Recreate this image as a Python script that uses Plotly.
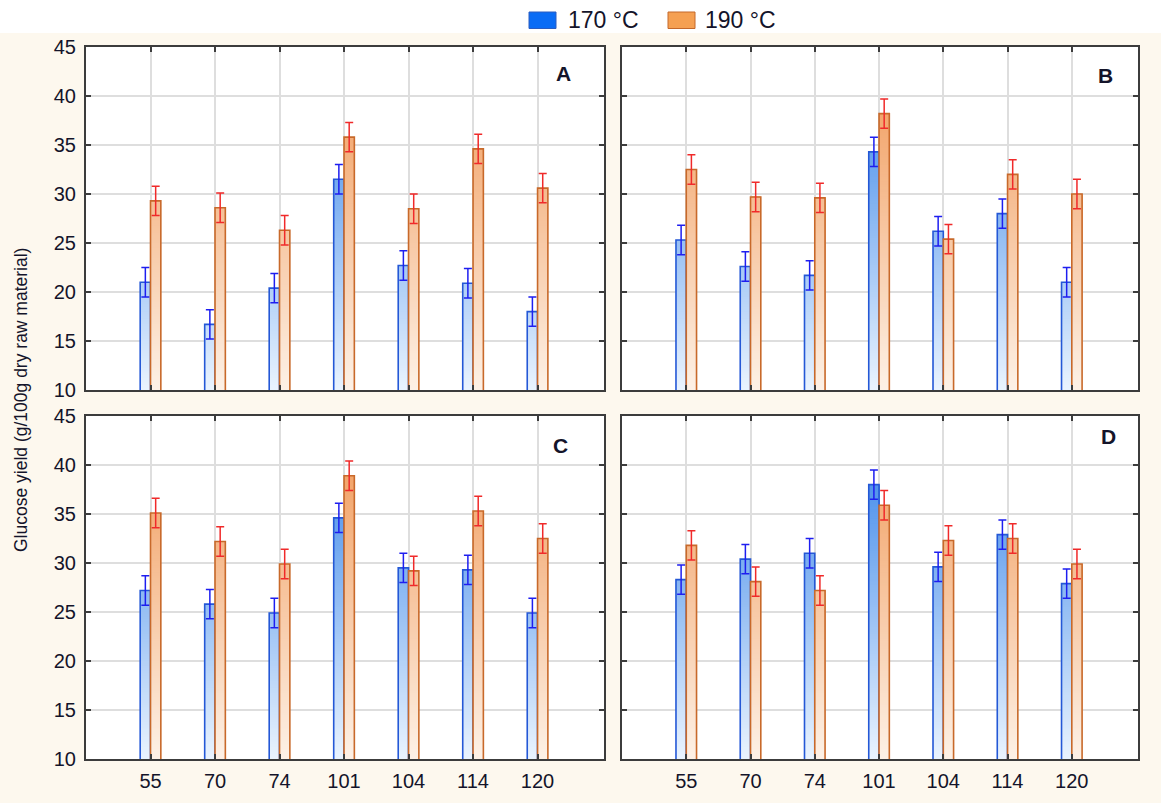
import numpy as np
import plotly.graph_objects as go

# Hydrolysis time points on the x axis
categories = ["55", "70", "74", "101", "104", "114", "120"]

# Glucose yield, g/100 g dry raw material — 170 °C series per panel
a_170 = [21.0, 16.7, 20.4, 31.5, 22.7, 20.9, 18.0]
b_170 = [25.3, 22.6, 21.7, 34.3, 26.2, 28.0, 21.0]
c_170 = [27.2, 25.8, 24.9, 34.6, 29.5, 29.3, 24.9]
d_170 = [28.3, 30.4, 31.0, 38.0, 29.6, 32.9, 27.9]

# 190 °C series per panel
a_190 = [29.3, 28.6, 26.3, 35.8, 28.5, 34.6, 30.6]
b_190 = [32.5, 29.7, 29.6, 38.2, 25.4, 32.0, 30.0]
c_190 = [35.1, 32.2, 29.9, 38.9, 29.2, 35.3, 32.5]
d_190 = [31.8, 28.1, 27.2, 35.9, 32.3, 32.5, 29.9]

# Standard deviation shown by the error bars
err_170 = [1.5, 1.5, 1.5, 1.5, 1.5, 1.5, 1.5]
err_190 = [1.5, 1.5, 1.5, 1.5, 1.5, 1.5, 1.5]

panel_labels = ["A", "B", "C", "D"]
y_ticks = [10, 15, 20, 25, 30, 35, 40, 45]

W, H = 1161, 803
FONT = "Liberation Sans, Arial, sans-serif"
TXT = "#14142a"
Y_MIN, Y_MAX = 10, 45
BAR_W = 0.16
STEP = 0.25

series_style = {
    "170": dict(scale=[[0, "#e9f3fe"], [1, "#2a7be6"]], edge="#2458d6",
                err="#1e1ef0", offset=-BAR_W),
    "190": dict(scale=[[0, "#fdf1e6"], [1, "#f09450"]], edge="#c8692a",
                err="#f02a2a", offset=0.0),
}

panels = [
    ("A", a_170, a_190, "x", "y"),
    ("B", b_170, b_190, "x2", "y2"),
    ("C", c_170, c_190, "x3", "y3"),
    ("D", d_170, d_190, "x4", "y4"),
]

fig = go.Figure()


def add_series(values, errs, key, xa, ya):
    st = series_style[key]
    # vertical gradient: stacked slices, each coloured by its height level
    xs, bases, heights, levels = [], [], [], []
    for cat, v in zip(categories, values):
        for lv in np.arange(Y_MIN, v, STEP):
            xs.append(cat)
            bases.append(lv)
            heights.append(v - lv)
            levels.append(lv)
    fig.add_trace(go.Bar(
        x=xs, y=heights, base=bases, width=BAR_W, offset=st["offset"],
        marker=dict(color=levels, colorscale=st["scale"], cmin=Y_MIN, cmax=Y_MAX,
                    line=dict(width=0)),
        xaxis=xa, yaxis=ya, showlegend=False, hoverinfo="skip"))
    # outline of each bar plus its error bar
    fig.add_trace(go.Bar(
        x=categories, y=values, width=BAR_W, offset=st["offset"],
        marker=dict(color="rgba(0,0,0,0)", line=dict(color=st["edge"], width=1.6)),
        error_y=dict(type="data", array=errs, color=st["err"], thickness=1.5, width=4),
        xaxis=xa, yaxis=ya, showlegend=False, name=key + " °C"))


for label, s170, s190, xa, ya in panels:
    add_series(s170, err_170, "170", xa, ya)
    add_series(s190, err_190, "190", xa, ya)

# panel geometry in pixels -> paper fractions
left_x = [86 / W, 604 / W]
right_x = [622 / W, 1138 / W]
top_y = [1 - 390 / H, 1 - 47 / H]
bot_y = [1 - 759 / H, 1 - 416 / H]

axis_common = dict(
    showgrid=True, gridcolor="#dedede", gridwidth=2,
    showline=True, linecolor="#3c3c3c", linewidth=2, mirror="ticks",
    ticks="inside", ticklen=5, tickwidth=1.5, tickcolor="#3c3c3c",
    zeroline=False, tickfont=dict(family=FONT, size=20, color=TXT),
    automargin=False,
)

layout_axes = {}
geo = {
    "": (left_x, top_y, False, True),
    "2": (right_x, top_y, False, False),
    "3": (left_x, bot_y, True, True),
    "4": (right_x, bot_y, True, False),
}
for sfx, (dx, dy, show_x, show_y) in geo.items():
    layout_axes["xaxis" + sfx] = dict(
        axis_common, domain=dx, anchor="y" + sfx, type="category",
        categoryorder="array", categoryarray=categories, range=[-1, 7.03],
        showticklabels=show_x, ticklabelstandoff=3)
    layout_axes["yaxis" + sfx] = dict(
        axis_common, domain=dy, anchor="x" + sfx, range=[Y_MIN, Y_MAX],
        tickvals=y_ticks, showticklabels=show_y, ticklabelstandoff=4)

fig.update_layout(**layout_axes)

annotations = []
letter_pos = {"A": (563, 73), "B": (1105, 75), "C": (560, 445), "D": (1108, 437)}
for lab in panel_labels:
    px, py = letter_pos[lab]
    annotations.append(dict(
        x=px / W, y=1 - py / H, xref="paper", yref="paper", text="<b>%s</b>" % lab,
        showarrow=False, xanchor="center", yanchor="middle",
        font=dict(family=FONT, size=21, color=TXT)))

annotations.append(dict(
    x=21 / W, y=1 - 400 / H, xref="paper", yref="paper",
    text="Glucose yield (g/100g dry raw material)", textangle=-90,
    showarrow=False, xanchor="center", yanchor="middle",
    font=dict(family=FONT, size=17.5, color=TXT)))

# legend drawn as swatches + text above the panels
legend_items = [("170 °C", "#0a6cf5", "#2a5cc0", 529, 556, 566),
                ("190 °C", "#f5a052", "#c4682a", 668, 695, 703)]
shapes = [dict(type="rect", xref="paper", yref="paper", x0=0, x1=1,
               y0=1 - 33 / H, y1=1, fillcolor="white", line=dict(width=0),
               layer="below")]
for text, fill, edge, sx0, sx1, tx in legend_items:
    shapes.append(dict(type="rect", xref="paper", yref="paper",
                       x0=sx0 / W, x1=sx1 / W, y0=1 - 28.5 / H, y1=1 - 12 / H,
                       fillcolor=fill, line=dict(color=edge, width=1)))
    annotations.append(dict(
        x=tx / W, y=1 - 20 / H, xref="paper", yref="paper", text=text,
        showarrow=False, xanchor="left", yanchor="middle",
        font=dict(family=FONT, size=23, color=TXT)))

fig.update_layout(
    width=W, height=H, autosize=False,
    margin=dict(l=0, r=0, t=0, b=0),
    paper_bgcolor="#fdf8ee", plot_bgcolor="white",
    barmode="overlay", showlegend=False,
    annotations=annotations, shapes=shapes,
    font=dict(family=FONT, color=TXT),
)

fig.write_html("out.html")
